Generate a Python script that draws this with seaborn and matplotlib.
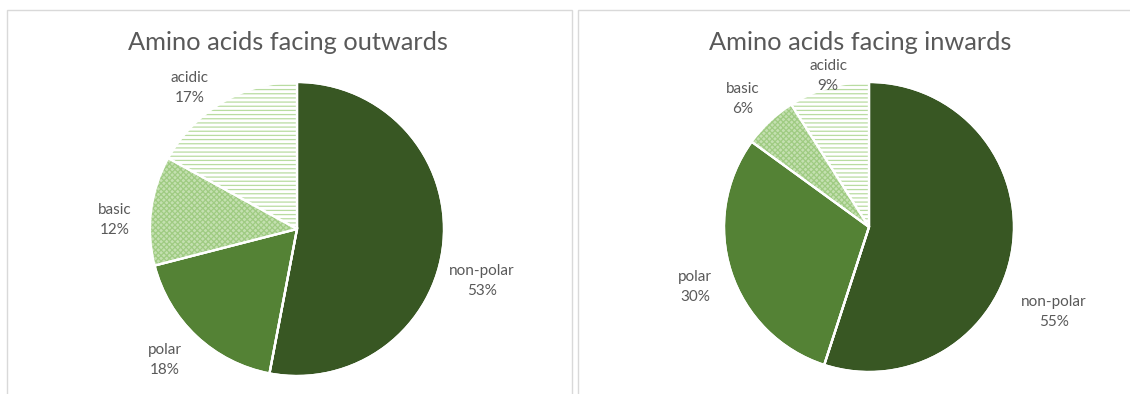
import matplotlib
matplotlib.use("Agg")
import matplotlib.pyplot as plt
from matplotlib.patches import Rectangle
import seaborn as sns

# Amino acid composition by residue orientation
categories = ["non-polar", "polar", "basic", "acidic"]
outward_pct = [53, 18, 12, 17]
inward_pct = [55, 30, 6, 9]
titles = ["Amino acids facing outwards", "Amino acids facing inwards"]

sns.set_theme(style="white")
plt.rcParams["font.family"] = ["Lato", "DejaVu Sans"]
plt.rcParams["hatch.linewidth"] = 0.9

W, H = 1130, 394
fig = plt.figure(figsize=(W / 100, H / 100), dpi=100)
fig.patch.set_facecolor("white")

TEXT = "#595959"
solid_colors = sns.color_palette(["#385723", "#548235"])
LIGHT = "#a9d18e"
LINES = "#b9dca1"

# panel frames (pixel space)
frame_kw = dict(transform=None, fill=False, edgecolor="#d9d9d9", linewidth=1.0)
fig.patches.append(Rectangle((7, -20), 565, H - 10 + 20, **frame_kw))
fig.patches.append(Rectangle((578, -20), 600, H - 10 + 20, **frame_kw))

# panel spans (pixel x-range), pie centre and radius in pixels
panels = [
    dict(x0=0, x1=575, cx=297, cy=229, r=147, title_x=288,
         labels=[(482, 281), (165, 360), (115, 220), (190, 88)]),
    dict(x0=575, x1=W, cx=869, cy=227, r=145, title_x=860,
         labels=[(1054, 312), (695, 287), (743, 99), (828, 76)]),
]

for vals, title, p in zip([outward_pct, inward_pct], titles, panels):
    ax = fig.add_axes([p["x0"] / W, 0, (p["x1"] - p["x0"]) / W, 1])
    wedges, _ = ax.pie(vals, startangle=90, counterclock=False,
                       colors=[solid_colors[0], solid_colors[1], LIGHT, "white"],
                       wedgeprops=dict(edgecolor="white", linewidth=1.6))
    # patterned slices: dotted for basic, horizontal rules for acidic
    basic, acidic = wedges[2], wedges[3]
    basic.set_facecolor("#c4e0b0")
    basic.set_edgecolor("#9fcb82")
    basic.set_hatch("xxxxxx")
    basic.set_linewidth(0)
    acidic.set_facecolor("white")
    acidic.set_edgecolor(LINES)
    acidic.set_hatch("----")
    acidic.set_linewidth(0)
    # white separators on top of the patterned slices
    ax.pie(vals, startangle=90, counterclock=False, colors=["none"] * 4,
           wedgeprops=dict(edgecolor="white", linewidth=1.6, fill=False))

    cx, cy, r = p["cx"], p["cy"], p["r"]
    ax.set_aspect("auto")
    ax.set_xlim((p["x0"] - cx) / r, (p["x1"] - cx) / r)
    ax.set_ylim((cy - H) / r, cy / r)
    ax.set_axis_off()

    for name, v, (lx, ly) in zip(categories, vals, p["labels"]):
        ax.text((lx - cx) / r, (cy - ly) / r, f"{name}\n{v}%", ha="center",
                va="center", fontsize=11, color=TEXT, linespacing=1.5)

    ax.text((p["title_x"] - cx) / r, (cy - 43) / r, title, ha="center",
            va="center", fontsize=18.3, color=TEXT)

fig.savefig("out.png", dpi=100, facecolor="white")
